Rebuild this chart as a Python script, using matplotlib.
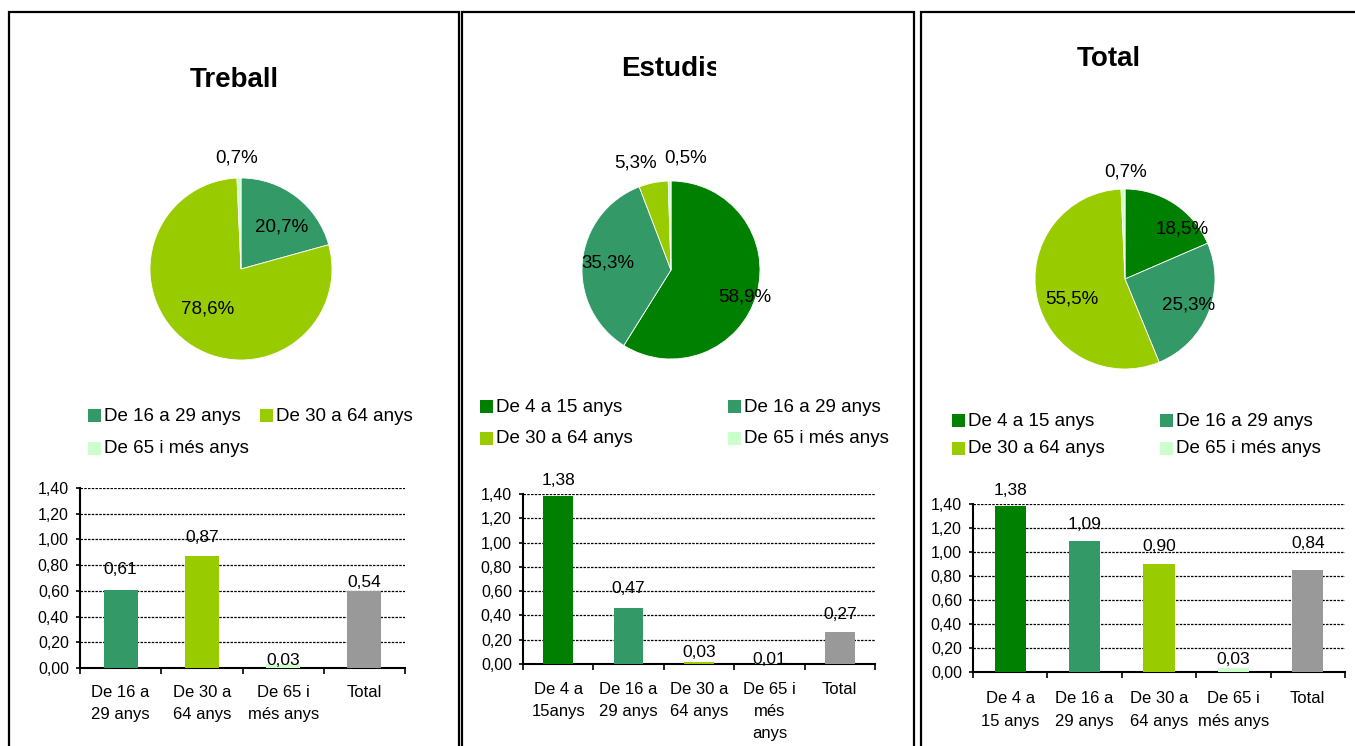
import numpy as np
import matplotlib
matplotlib.use("Agg")
import matplotlib.pyplot as plt
from matplotlib.patches import Rectangle

plt.rcParams["font.family"] = ["Liberation Sans", "DejaVu Sans"]

# --- data ---
treball_groups = ["De 16 a 29 anys", "De 30 a 64 anys", "De 65 i més anys"]
treball_pct = [20.7, 78.6, 0.7]
treball_cats = ["De 16 a\n29 anys", "De 30 a\n64 anys", "De 65 i\nmés anys", "Total"]
treball_vals = [0.61, 0.87, 0.03, 0.60]
treball_labels = ["0,61", "0,87", "0,03", "0,54"]

estudis_groups = ["De 4 a 15 anys", "De 16 a 29 anys", "De 30 a 64 anys", "De 65 i més anys"]
estudis_pct = [58.9, 35.3, 5.3, 0.5]
estudis_cats = ["De 4 a\n15anys", "De 16 a\n29 anys", "De 30 a\n64 anys", "De 65 i\nmés\nanys", "Total"]
estudis_vals = [1.38, 0.46, 0.02, 0.01, 0.26]
estudis_labels = ["1,38", "0,47", "0,03", "0,01", "0,27"]

total_groups = ["De 4 a 15 anys", "De 16 a 29 anys", "De 30 a 64 anys", "De 65 i més anys"]
total_pct = [18.5, 25.3, 55.5, 0.7]
total_cats = ["De 4 a\n15 anys", "De 16 a\n29 anys", "De 30 a\n64 anys", "De 65 i\nmés anys", "Total"]
total_vals = [1.38, 1.09, 0.90, 0.03, 0.85]
total_labels = ["1,38", "1,09", "0,90", "0,03", "0,84"]

group_colors = {
    "De 4 a 15 anys": "#008000",
    "De 16 a 29 anys": "#339966",
    "De 30 a 64 anys": "#99CC00",
    "De 65 i més anys": "#CCFFCC",
    "Total": "#999999",
}

W, H = 1355, 746
fig = plt.figure(figsize=(W / 100, H / 100), dpi=100)


def rect(x0, y0, x1, y1):
    # pixel box (top-left origin) -> figure fraction
    return [x0 / W, 1 - y1 / H, (x1 - x0) / W, (y1 - y0) / H]


def border(x0, y0, x1, y1):
    fig.add_artist(Rectangle((x0 / W, 1 - y1 / H), (x1 - x0) / W, (y1 - y0) / H,
                             transform=fig.transFigure, fill=False,
                             edgecolor="black", linewidth=1.6))


def title(text, x, y, clip_right=None):
    right = clip_right if clip_right else x + 200
    ax = fig.add_axes(rect(x - 5, y - 30, right, y + 10))
    ax.set_xlim(x - 5, right)
    ax.set_ylim(y + 10, y - 30)
    ax.axis("off")
    ax.text(x, y, text, fontsize=20, fontweight="bold", ha="left", va="baseline",
            clip_on=True)


def draw_pie(cx, cy, r, pct, colors, dist, turn):
    s = 1.5
    ax = fig.add_axes(rect(cx - s * r, cy - s * r, cx + s * r, cy + s * r))
    wedges, _ = ax.pie(pct, colors=colors, startangle=90, counterclock=False,
                       radius=1, wedgeprops=dict(edgecolor="white", linewidth=0.6))
    ax.set_xlim(-s, s)
    ax.set_ylim(-s, s)
    for w, p, d, t in zip(wedges, pct, dist, turn):
        a = np.deg2rad((w.theta1 + w.theta2) / 2 + t)
        ax.text(d * np.cos(a), d * np.sin(a), f"{p:.1f}%".replace(".", ","),
                ha="center", va="center", fontsize=13.5)


def draw_legend(names, col_x, row_y):
    ncol = len(col_x)
    for i, n in enumerate(names):
        mx = col_x[i % ncol]
        my = row_y[i // ncol]
        fig.add_artist(Rectangle((mx / W, 1 - (my + 6.5) / H), 13 / W, 13 / H,
                                 transform=fig.transFigure,
                                 facecolor=group_colors[n], edgecolor="none"))
        fig.text((mx + 16) / W, 1 - (my + 1) / H, n, fontsize=13.5, va="center")


def draw_bars(box, cats, vals, labels, colors, offs, xpad):
    ax = fig.add_axes(rect(*box))
    x = np.arange(len(cats))
    ax.bar(x, vals, width=0.42, color=colors, zorder=3)
    ax.set_xlim(-0.5, len(cats) - 0.5)
    ax.set_ylim(0, 1.4)
    yt = np.arange(0, 1.41, 0.2)
    ax.set_yticks(yt)
    ax.set_yticklabels([f"{v:.2f}".replace(".", ",") for v in yt], fontsize=11.5)
    ax.yaxis.grid(True, color="black", linestyle=(0, (2, 1)), linewidth=0.9)
    ax.set_axisbelow(True)
    for sp in ["top", "right"]:
        ax.spines[sp].set_visible(False)
    for sp in ["left", "bottom"]:
        ax.spines[sp].set_linewidth(1.5)
    ax.tick_params(axis="y", length=3, width=1.2, pad=5)
    ax.set_xticks(x)
    ax.set_xticklabels(cats, fontsize=12, linespacing=1.6)
    ax.tick_params(axis="x", which="major", length=0, pad=xpad)
    ax.set_xticks(np.arange(-0.5, len(cats)), minor=True)
    ax.tick_params(axis="x", which="minor", length=4, width=1.2, direction="out")
    for xi, v, lab, o in zip(x, vals, labels, offs):
        ax.annotate(lab, (xi, v), xytext=(0, o / 1.389), textcoords="offset points",
                    ha="center", va="center", fontsize=12.5, zorder=4)


# ── Panel borders ──
border(9, 12, 459, 770)
border(462, 12, 914, 770)
border(921, 12, 1370, 770)

# ── Treball ──
title("Treball", 190, 87)
draw_pie(241, 269, 91, treball_pct, [group_colors[g] for g in treball_groups],
         [0.645, 0.57, 1.22], [-7, -3.5, 0.8])
draw_legend(treball_groups, [88, 260], [415, 448])
draw_bars((80, 488, 405, 668), treball_cats, treball_vals, treball_labels,
          [group_colors[g] for g in treball_groups] + [group_colors["Total"]],
          [20, 19, 4, 8], 12)

# ── Estudis (title cut off at the right as in the original) ──
title("Estudis", 621, 76, clip_right=716)
draw_pie(671, 270, 89, estudis_pct, [group_colors[g] for g in estudis_groups],
         [0.885, 0.71, 1.265, 1.27], [-4, -0.7, 6.8, -8.5])
draw_legend(estudis_groups, [480, 728], [406, 438])
draw_bars((523, 494, 875, 664), estudis_cats, estudis_vals, estudis_labels,
          [group_colors[g] for g in estudis_groups] + [group_colors["Total"]],
          [16, 20, 9, 3, 18], 13)

# ── Total ──
title("Total", 1077, 66)
draw_pie(1125, 279, 90, total_pct, [group_colors[g] for g in total_groups],
         [0.84, 0.76, 0.63, 1.19], [-15.4, -0.3, 8.3, -1.8])
draw_legend(total_groups, [952, 1160], [420, 448])
draw_bars((973, 504, 1345, 672), total_cats, total_vals, total_labels,
          [group_colors[g] for g in total_groups] + [group_colors["Total"]],
          [16, 17, 18, 9, 27], 14)

fig.savefig("out.png", dpi=100)
